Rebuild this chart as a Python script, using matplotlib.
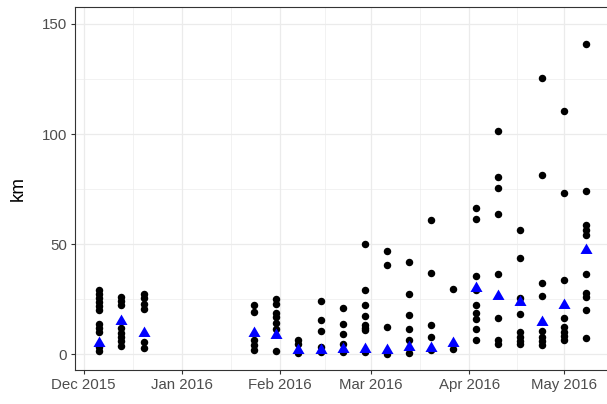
import matplotlib
matplotlib.use("Agg")
import matplotlib.pyplot as plt
import matplotlib.dates as mdates
import matplotlib.ticker as mticker
import numpy as np
import datetime as dt

plt.rcParams['font.family'] = ['Liberation Sans', 'DejaVu Sans']

# ---- data ----
week_dates = ['2015-12-06', '2015-12-13', '2015-12-20',
              '2016-01-24', '2016-01-31', '2016-02-07', '2016-02-14',
              '2016-02-21', '2016-02-28', '2016-03-06', '2016-03-13',
              '2016-03-20', '2016-03-27', '2016-04-03', '2016-04-10',
              '2016-04-17', '2016-04-24', '2016-05-01', '2016-05-08']

km_points = [
    [29.2, 27.3, 25.5, 23.7, 21.9, 20.1, 13.7, 11.9, 10.1, 3.3, 1.5],
    [26.1, 24.2, 22.3, 11.8, 9.8, 8.0, 6.0, 3.9],
    [27.5, 25.5, 23.0, 20.5, 5.5, 3.0],
    [22.3, 19.2, 6.4, 4.1, 1.8],
    [24.9, 23.0, 18.6, 16.8, 14.1, 11.5, 1.6],
    [6.7, 4.8, 0.8],
    [24.2, 15.7, 10.6, 3.5, 1.0],
    [21.0, 13.9, 9.2, 4.5, 1.0],
    [50.3, 29.1, 22.6, 17.3, 13.5, 12.0, 11.0, 1.0],
    [47.0, 40.5, 12.4, 0.3],
    [41.7, 27.3, 18.0, 11.4, 6.4, 0.6],
    [60.9, 37.1, 13.3, 7.9, 1.8],
    [29.8, 2.6],
    [66.4, 61.6, 35.7, 29.3, 22.4, 18.8, 16.0, 11.5, 6.7],
    [101.4, 80.7, 75.5, 63.6, 36.4, 16.5, 6.4, 4.8],
    [56.4, 43.8, 25.6, 18.1, 10.0, 8.1, 6.2, 4.5],
    [125.6, 81.4, 32.4, 26.5, 10.5, 8.0, 6.0, 4.2],
    [110.5, 73.0, 33.7, 16.7, 12.4, 10.1, 8.2, 6.7],
    [140.9, 74.1, 58.6, 56.4, 54.0, 36.3, 27.7, 26.0, 20.0, 7.4],
]

triangle_km = [5.0, 15.0, 9.5, 9.5, 8.8, 2.0, 2.2, 2.5, 2.3, 2.2, 3.2,
               3.0, 5.0, 30.0, 26.5, 23.7, 14.5, 22.2, 47.4]

y_ticks = [0, 50, 100, 150]

# ---- build ----
dates = [dt.datetime.strptime(d, '%Y-%m-%d') for d in week_dates]
x_pts = np.concatenate([[mdates.date2num(d)] * len(v) for d, v in zip(dates, km_points)])
y_pts = np.concatenate([np.array(v, dtype=float) for v in km_points])
x_tri = mdates.date2num(dates)

W, H = 607, 404
fig = plt.figure(figsize=(W / 100, H / 100), dpi=100)
left_px, right_px, top_px, bottom_px = 75, 610.5, 7.3, 370
ax = fig.add_axes([left_px / W, 1 - bottom_px / H,
                   (right_px - left_px) / W, (bottom_px - top_px) / H])

ax.set_facecolor('white')
ax.scatter(x_pts, y_pts, s=29, c='black', linewidths=0, zorder=3)
tri = [(-1, -0.57735), (1, -0.57735), (0, 1.1547), (-1, -0.57735)]
ax.scatter(x_tri, triangle_km, s=100, c='#0000FF', marker=tri, linewidths=0, zorder=4)

# limits (ggplot-style 5% expansion on x)
span = x_tri.max() - x_tri.min()
ax.set_xlim(x_tri.min() - 0.05 * span, x_tri.max() + 0.05 * span)
ax.set_ylim(-7.1, 157.5)

# ticks
ax.xaxis.set_major_locator(mdates.MonthLocator())
ax.xaxis.set_major_formatter(mdates.DateFormatter('%b %Y'))
majors = [mdates.date2num(dt.datetime(y, m, 1)) for y, m in
          [(2015, 11), (2015, 12), (2016, 1), (2016, 2), (2016, 3), (2016, 4), (2016, 5), (2016, 6)]]
minors = [(a + b) / 2 for a, b in zip(majors[:-1], majors[1:])]
ax.xaxis.set_minor_locator(mticker.FixedLocator(minors))
ax.yaxis.set_major_locator(mticker.FixedLocator(y_ticks))
ax.yaxis.set_minor_locator(mticker.FixedLocator([25, 75, 125]))

ax.grid(which='major', color='#EBEBEB', linewidth=0.9, zorder=0)
ax.grid(which='minor', color='#EBEBEB', linewidth=0.45, zorder=0)
ax.set_axisbelow(True)

ax.tick_params(which='major', length=3.1, width=0.8, color='#333333',
               labelsize=10.8, labelcolor='#4D4D4D', pad=2.5)
ax.tick_params(which='minor', length=0)

for sp in ax.spines.values():
    sp.set_color('#333333')
    sp.set_linewidth(0.8)

fig.text(18 / W, 1 - 188.7 / H, 'km', rotation=90, ha='center', va='center',
         fontsize=13.5, color='black')

fig.savefig('out.png', dpi=100, facecolor='white')
